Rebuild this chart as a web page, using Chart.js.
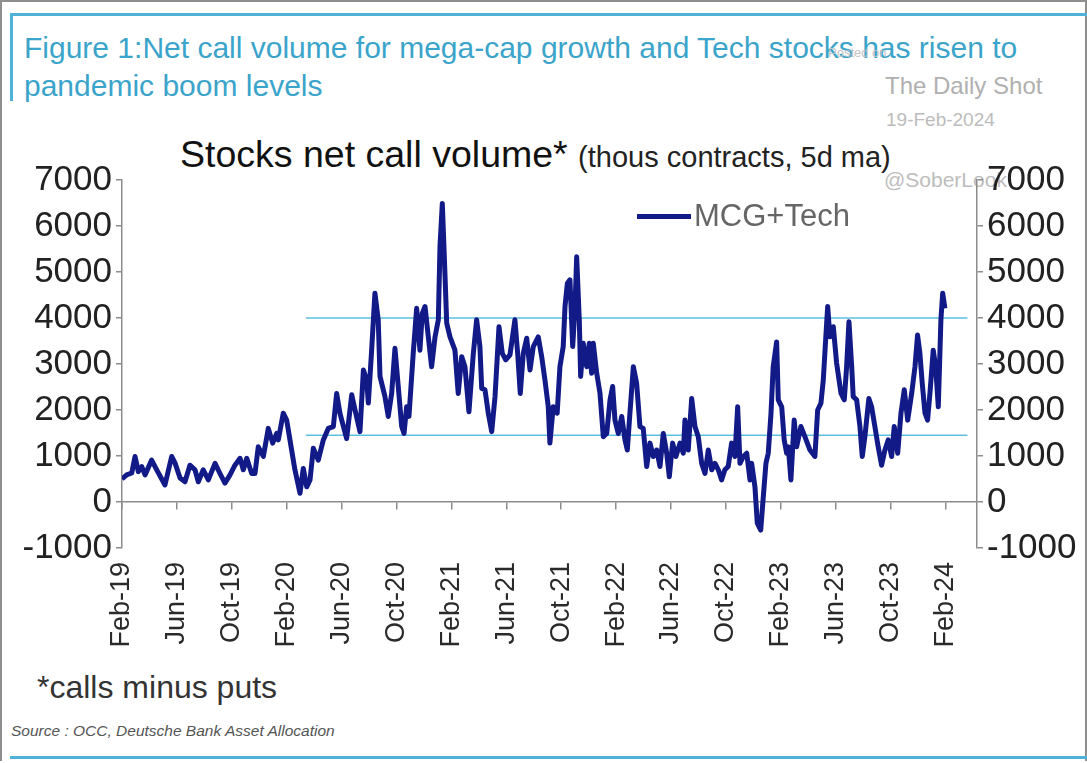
<!DOCTYPE html>
<html>
<head>
<meta charset="utf-8">
<script src="https://cdn.jsdelivr.net/npm/chart.js@4.4.1/dist/chart.umd.min.js"></script>
<style>
  html, body { margin: 0; padding: 0; background: #fff; }
  #page { position: relative; width: 1087px; height: 763px; overflow: hidden; font-family: "Liberation Sans", Arial, sans-serif; }
  .abs { position: absolute; white-space: nowrap; }
  #chart { position: absolute; left: 0; top: 0; z-index: 2; }
  .frame { position: absolute; background: #4fb2d9; }
</style>
</head>
<body>
<div id="page">
  <!-- outer border and header frame -->
  <div class="abs" style="left:0;top:0;width:1083px;height:759px;border:2px solid #8e8e8e;border-bottom:none;"></div>
  <div class="frame" style="left:10px;top:13px;width:1077px;height:3px;"></div>
  <div class="frame" style="left:10px;top:13px;width:3px;height:88px;"></div>
  <div class="frame" style="left:10px;top:756px;width:1077px;height:3px;"></div>

  <div class="abs" style="left:24px;top:31px;font-size:30px;color:#3ba4ca;">Figure 1:Net call volume for mega-cap growth and Tech stocks has risen to</div>
  <div class="abs" style="left:24px;top:69px;font-size:30px;color:#3ba4ca;">pandemic boom levels</div>
  <div class="abs" style="left:828px;top:45px;font-size:13px;color:#c4c4c4;">Posted on</div>
  <div class="abs" style="left:885px;top:72px;font-size:24px;color:#b0b0b0;">The Daily Shot</div>
  <div class="abs" style="left:886px;top:109px;font-size:19px;color:#bcbcbc;">19-Feb-2024</div>
  <div class="abs" style="left:884px;top:168px;font-size:21px;color:#bdbdbd;z-index:1;">@SoberLook</div>

  <div class="abs" style="left:180px;top:133px;font-size:37.5px;color:#111;">Stocks net call volume* <span style="font-size:29px;color:#222;">(thous contracts, 5d ma)</span></div>

  <div id="legend" class="abs" style="left:637px;top:198px;z-index:3;display:flex;align-items:center;"></div>

  <div class="abs" style="left:37px;top:669px;font-size:32px;color:#333;">*calls minus puts</div>
  <div class="abs" style="left:11px;top:722px;font-size:15.5px;font-style:italic;color:#555;">Source : OCC, Deutsche Bank Asset Allocation</div>

  <canvas id="chart" width="1087" height="763"></canvas>
</div>

<script>
// tick labels every four months, starting Feb 2019 (x = months since Feb-19)
const monthTicks = ['Feb-19', 'Jun-19', 'Oct-19', 'Feb-20', 'Jun-20', 'Oct-20', 'Feb-21', 'Jun-21',
                    'Oct-21', 'Feb-22', 'Jun-22', 'Oct-22', 'Feb-23', 'Jun-23', 'Oct-23', 'Feb-24'];

// MCG+Tech net call volume, thous contracts (5d ma)
const months = [
  0.00, 0.34, 0.71, 0.95, 1.19, 1.44, 1.68, 2.16, 2.53, 3.13, 3.62, 3.86, 4.23, 4.59, 4.95, 5.32,
  5.56, 5.92, 6.29, 6.78, 7.14, 7.50, 7.87, 8.23, 8.60, 8.84, 9.09, 9.45, 9.69, 9.93, 10.30, 10.66,
  10.98, 11.27, 11.39, 11.75, 12.00, 12.36, 12.60, 12.97, 13.21, 13.46, 13.70, 13.94, 14.30, 14.67,
  15.03, 15.40, 15.64, 15.88, 16.01, 16.37, 16.74, 16.98, 17.34, 17.59, 17.83, 17.95, 18.19, 18.43,
  18.67, 18.80, 19.16, 19.40, 19.65, 19.89, 20.13, 20.38, 20.55, 20.74, 20.91, 21.22, 21.47, 21.71,
  21.88, 22.08, 22.32, 22.56, 22.81, 23.05, 23.17, 23.34, 23.53, 23.66, 23.90, 24.26, 24.50, 24.75,
  24.99, 25.28, 25.60, 25.84, 26.08, 26.21, 26.45, 26.69, 26.94, 27.18, 27.47, 27.71, 27.96, 28.27,
  28.63, 28.83, 29.02, 29.24, 29.49, 29.73, 29.97, 30.33, 30.58, 30.82, 31.06, 31.18, 31.42, 31.71,
  31.91, 32.15, 32.28, 32.45, 32.64, 32.84, 33.01, 33.13, 33.32, 33.42, 33.61, 33.86, 34.05, 34.22,
  34.34, 34.59, 34.83, 35.07, 35.32, 35.56, 35.75, 35.92, 36.16, 36.41, 36.65, 36.82, 37.01, 37.26,
  37.50, 37.74, 37.98, 38.23, 38.47, 38.71, 38.96, 39.20, 39.44, 39.69, 39.88, 40.12, 40.36, 40.66,
  40.90, 41.02, 41.26, 41.51, 41.75, 41.99, 42.24, 42.48, 42.72, 42.97, 43.21, 43.45, 43.69, 43.93,
  44.17, 44.42, 44.66, 44.86, 45.03, 45.27, 45.52, 45.76, 45.88, 46.12, 46.29, 46.54, 46.73, 46.92,
  47.09, 47.29, 47.45, 47.70, 47.82, 48.07, 48.25, 48.43, 48.55, 48.74, 48.98, 49.16, 49.47, 49.76,
  50.13, 50.49, 50.69, 50.93, 51.10, 51.27, 51.42, 51.58, 51.83, 52.07, 52.39, 52.63, 52.80, 52.97,
  53.17, 53.28, 53.53, 53.77, 53.94, 54.13, 54.42, 54.62, 54.86, 55.10, 55.35, 55.59, 55.83, 56.08,
  56.27, 56.52, 56.76, 57.00, 57.25, 57.54, 57.78, 57.97, 58.14, 58.31, 58.51, 58.70, 58.87, 59.11,
  59.29, 59.48, 59.67, 59.80, 59.96
];
const netCalls = [
  500, 590, 630, 990, 660, 770, 590, 910, 700, 370, 990, 850, 520, 440, 800, 700,
  440, 700, 480, 840, 620, 410, 590, 800, 950, 700, 950, 620, 620, 1200, 990, 1600,
  1280, 1490, 1350, 1930, 1780, 1130, 700, 190, 730, 330, 480, 1170, 910, 1350,
  1600, 1640, 2360, 1930, 1780, 1380, 2330, 2000, 1530, 2870, 2650, 2150, 3300, 4540,
  3960, 2730, 2290, 1860, 2360, 3340, 2510, 1640, 1490, 2070, 1860, 3230, 4210, 3300,
  4100, 4250, 3590, 2940, 3590, 3960, 5550, 6490, 4970, 3890, 3590, 3300, 2360, 3160,
  2940, 1960, 3230, 3960, 3380, 2470, 2440, 1930, 1530, 2290, 3810, 3230, 3090, 3200,
  3960, 3230, 2360, 3230, 3560, 2870, 3380, 3590, 3160, 2650, 2070, 1280, 2070, 1930,
  2940, 3380, 4250, 4750, 4830, 3380, 4250, 5330, 3960, 2730, 3450, 2940, 3450, 2800,
  3450, 2800, 2360, 1420, 1490, 2220, 2510, 1780, 1490, 1860, 1350, 1130, 1930, 2940,
  2580, 1640, 1600, 770, 1280, 990, 1130, 770, 1490, 1060, 550, 1280, 990, 1280,
  1060, 1780, 1130, 2250, 1640, 1420, 840, 620, 1130, 700, 840, 700, 480, 700,
  770, 1280, 990, 2070, 840, 990, 1060, 480, 840, 330, -460, -610, 120, 840,
  1060, 1930, 2940, 3480, 2220, 2070, 1350, 1060, 1200, 480, 1780, 1200, 1640, 1420,
  1130, 990, 2000, 2150, 2650, 3520, 4250, 3590, 3810, 3020, 2360, 2220, 2940, 3920,
  2940, 2290, 2220, 1640, 990, 1420, 2250, 2070, 1640, 1200, 800, 1130, 1350, 990,
  1640, 1060, 1930, 2440, 1780, 2360, 2940, 3630, 3230, 2580, 1930, 1780, 2360, 3300,
  2940, 2070, 3960, 4540, 4210
];

// reference levels drawn from mid-March 2020 to the end of the range
const bandLevels = [4000, 1450];
const bandFrom = 13.4;
const bandTo = 61.6;

const xMax = 62.3;
const lineColor = '#121a88';

Chart.defaults.font.family = "'Liberation Sans', Arial, sans-serif";

const series = {
  label: 'MCG+Tech',
  data: months.map((m, i) => ({ x: m, y: netCalls[i] })),
  borderColor: lineColor,
  borderWidth: 5,
  pointRadius: 0,
  tension: 0,
  borderJoinStyle: 'round',
  order: 0
};

const bands = bandLevels.map(level => ({
  label: 'level ' + level,
  data: [{ x: bandFrom, y: level }, { x: bandTo, y: level }],
  borderColor: '#5cc0e0',
  borderWidth: 1.6,
  pointRadius: 0,
  order: 1
}));

const axisGray = '#8c8c8c';
const yTicks = {
  stepSize: 1000,
  autoSkip: false,
  padding: 4,
  color: '#222',
  font: { size: 35 },
  callback: v => String(v)
};

new Chart(document.getElementById('chart'), {
  type: 'line',
  data: { datasets: [series, ...bands] },
  options: {
    responsive: false,
    animation: false,
    layout: { padding: { top: 180, left: 0, right: 0, bottom: 0 } },
    plugins: { legend: { display: false }, tooltip: { enabled: false } },
    scales: {
      x: {
        type: 'linear',
        position: 'bottom',
        min: 0,
        max: xMax,
        afterFit: scale => { scale.height = 215 },
        border: { display: false },
        grid: { display: false, drawTicks: false },
        ticks: {
          stepSize: 4,
          includeBounds: false,
          autoSkip: false,
          minRotation: 90,
          maxRotation: 90,
          padding: 14,
          color: '#2a2a2a',
          font: { size: 27 },
          callback: v => monthTicks[Math.round(v / 4)]
        }
      },
      xZero: {
        type: 'linear',
        position: { y: 0 },
        min: 0,
        max: xMax,
        border: { color: axisGray, width: 1.5 },
        grid: { drawOnChartArea: false, drawTicks: true, tickLength: 7, color: axisGray, lineWidth: 1.5 },
        ticks: { stepSize: 4, includeBounds: false, display: false }
      },
      y: {
        position: 'left',
        min: -1000,
        max: 7000,
        afterFit: scale => { scale.width = 122 },
        border: { color: axisGray, width: 1.5 },
        grid: { drawOnChartArea: false, tickLength: 6, color: axisGray, lineWidth: 1.5 },
        ticks: yTicks
      },
      y2: {
        position: 'right',
        min: -1000,
        max: 7000,
        afterFit: scale => { scale.width = 110 },
        border: { color: axisGray, width: 1.5 },
        grid: { drawOnChartArea: false, tickLength: 6, color: axisGray, lineWidth: 1.5 },
        ticks: yTicks
      }
    }
  }
});

// legend entry for the main series
const legend = document.getElementById('legend');
legend.innerHTML =
  '<span style="display:inline-block;width:54px;height:5px;background:' + series.borderColor + ';margin-right:3px;"></span>' +
  '<span style="font-size:31px;color:#666;">' + series.label + '</span>';
</script>
</body>
</html>
